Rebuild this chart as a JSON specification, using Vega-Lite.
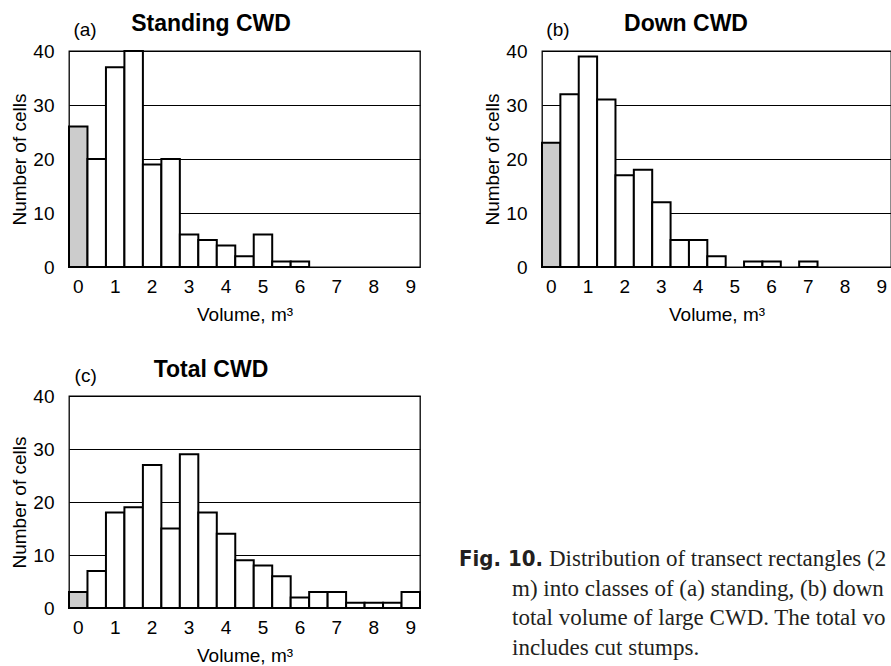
{
  "$schema": "https://vega.github.io/schema/vega-lite/v6.json",
  "background": "white",
  "padding": {"left": 10, "top": 12, "right": 0, "bottom": 0},
  "config": {
    "font": "Liberation Sans",
    "view": {"stroke": "#000", "strokeWidth": 1.3},
    "axis": {
      "domain": false,
      "ticks": false,
      "labelFontSize": 19,
      "labelColor": "#000",
      "labelFont": "Liberation Sans",
      "titleFontSize": 19,
      "titleFontWeight": "normal",
      "titleColor": "#000",
      "titleFont": "Liberation Sans",
      "gridColor": "#000",
      "gridOpacity": 1,
      "gridWidth": 1
    },
    "title": {"fontSize": 23, "fontWeight": "bold", "color": "#000", "font": "Liberation Sans", "offset": -15}
  },
  "datasets": {
    "bars": [
      {"panel": "a", "volume": 0, "cells": 26},
      {"panel": "a", "volume": 0.5, "cells": 20},
      {"panel": "a", "volume": 1, "cells": 37},
      {"panel": "a", "volume": 1.5, "cells": 40},
      {"panel": "a", "volume": 2, "cells": 19},
      {"panel": "a", "volume": 2.5, "cells": 20},
      {"panel": "a", "volume": 3, "cells": 6},
      {"panel": "a", "volume": 3.5, "cells": 5},
      {"panel": "a", "volume": 4, "cells": 4},
      {"panel": "a", "volume": 4.5, "cells": 2},
      {"panel": "a", "volume": 5, "cells": 6},
      {"panel": "a", "volume": 5.5, "cells": 1},
      {"panel": "a", "volume": 6, "cells": 1},
      {"panel": "b", "volume": 0, "cells": 23},
      {"panel": "b", "volume": 0.5, "cells": 32},
      {"panel": "b", "volume": 1, "cells": 39},
      {"panel": "b", "volume": 1.5, "cells": 31},
      {"panel": "b", "volume": 2, "cells": 17},
      {"panel": "b", "volume": 2.5, "cells": 18},
      {"panel": "b", "volume": 3, "cells": 12},
      {"panel": "b", "volume": 3.5, "cells": 5},
      {"panel": "b", "volume": 4, "cells": 5},
      {"panel": "b", "volume": 4.5, "cells": 2},
      {"panel": "b", "volume": 5.5, "cells": 1},
      {"panel": "b", "volume": 6, "cells": 1},
      {"panel": "b", "volume": 7, "cells": 1},
      {"panel": "c", "volume": 0, "cells": 3},
      {"panel": "c", "volume": 0.5, "cells": 7},
      {"panel": "c", "volume": 1, "cells": 18},
      {"panel": "c", "volume": 1.5, "cells": 19},
      {"panel": "c", "volume": 2, "cells": 27},
      {"panel": "c", "volume": 2.5, "cells": 15},
      {"panel": "c", "volume": 3, "cells": 29},
      {"panel": "c", "volume": 3.5, "cells": 18},
      {"panel": "c", "volume": 4, "cells": 14},
      {"panel": "c", "volume": 4.5, "cells": 9},
      {"panel": "c", "volume": 5, "cells": 8},
      {"panel": "c", "volume": 5.5, "cells": 6},
      {"panel": "c", "volume": 6, "cells": 2},
      {"panel": "c", "volume": 6.5, "cells": 3},
      {"panel": "c", "volume": 7, "cells": 3},
      {"panel": "c", "volume": 7.5, "cells": 1},
      {"panel": "c", "volume": 8, "cells": 1},
      {"panel": "c", "volume": 8.5, "cells": 1},
      {"panel": "c", "volume": 9, "cells": 3}
    ],
    "panels": [
      {"panel": "a", "label": "(a)"},
      {"panel": "b", "label": "(b)"},
      {"panel": "c", "label": "(c)"}
    ],
    "caption": [
      {"line": 1, "part": "label", "text": "Fig. 10."},
      {"line": 1, "part": "body", "text": "Distribution of transect rectangles (2 × 50"},
      {"line": 2, "part": "body", "text": "m) into classes of (a) standing, (b) down, and (c)"},
      {"line": 3, "part": "body", "text": "total volume of large CWD. The total volume"},
      {"line": 4, "part": "body", "text": "includes cut stumps."}
    ]
  },
  "columns": 2,
  "spacing": {"row": 129, "column": 122},
  "bounds": "flush",
  "concat": [
    {
      "width": 351,
      "height": 216,
      "title": {"text": "Standing CWD", "dx": -33.5},
      "layer": [
        {
          "data": {"name": "bars"},
          "transform": [{"filter": "datum.panel === 'a'"}],
          "mark": {"type": "bar", "stroke": "#000", "strokeWidth": 2},
          "encoding": {
            "x": {"field": "volume", "type": "ordinal",
              "scale": {"domain": [0, 0.5, 1, 1.5, 2, 2.5, 3, 3.5, 4, 4.5, 5, 5.5, 6, 6.5, 7, 7.5, 8, 8.5, 9], "paddingInner": 0, "paddingOuter": 0},
              "axis": {"values": [0, 1, 2, 3, 4, 5, 6, 7, 8, 9], "labelAngle": 0, "labelPadding": 10, "title": "Volume, m³", "titlePadding": 9, "grid": false}},
            "y": {"field": "cells", "type": "quantitative",
              "scale": {"domain": [0, 40], "nice": false},
              "axis": {"values": [0, 10, 20, 30, 40], "labelPadding": 15, "title": "Number of cells", "titlePadding": 3, "grid": true}},
            "fill": {"condition": {"test": "datum.volume === 0", "value": "#cccccc"}, "value": "#ffffff"}
          }
        },
        {
          "data": {"name": "panels"},
          "transform": [{"filter": "datum.panel === 'a'"}],
          "mark": {"type": "text", "fontSize": 19, "align": "right", "baseline": "alphabetic", "color": "#000"},
          "encoding": {
            "x": {"datum": 0.5, "type": "ordinal",
              "scale": {"domain": [0, 0.5, 1, 1.5, 2, 2.5, 3, 3.5, 4, 4.5, 5, 5.5, 6, 6.5, 7, 7.5, 8, 8.5, 9], "paddingInner": 0, "paddingOuter": 0},
              "axis": {"values": [0, 1, 2, 3, 4, 5, 6, 7, 8, 9], "labelAngle": 0, "labelPadding": 10, "title": "Volume, m³", "titlePadding": 9, "grid": false}},
            "y": {"datum": 42.7, "type": "quantitative",
              "scale": {"domain": [0, 40], "nice": false},
              "axis": {"values": [0, 10, 20, 30, 40], "labelPadding": 15, "title": "Number of cells", "titlePadding": 3, "grid": true}},
            "text": {"field": "label"}
          }
        }
      ]
    },
    {
      "width": 349,
      "height": 216,
      "title": {"text": "Down CWD", "dx": -30.5},
      "layer": [
        {
          "data": {"name": "bars"},
          "transform": [{"filter": "datum.panel === 'b'"}],
          "mark": {"type": "bar", "stroke": "#000", "strokeWidth": 2},
          "encoding": {
            "x": {"field": "volume", "type": "ordinal",
              "scale": {"domain": [0, 0.5, 1, 1.5, 2, 2.5, 3, 3.5, 4, 4.5, 5, 5.5, 6, 6.5, 7, 7.5, 8, 8.5, 9], "paddingInner": 0, "paddingOuter": 0},
              "axis": {"values": [0, 1, 2, 3, 4, 5, 6, 7, 8, 9], "labelAngle": 0, "labelPadding": 10, "title": "Volume, m³", "titlePadding": 9, "grid": false}},
            "y": {"field": "cells", "type": "quantitative",
              "scale": {"domain": [0, 40], "nice": false},
              "axis": {"values": [0, 10, 20, 30, 40], "labelPadding": 15, "title": "Number of cells", "titlePadding": 3, "grid": true}},
            "fill": {"condition": {"test": "datum.volume === 0", "value": "#cccccc"}, "value": "#ffffff"}
          }
        },
        {
          "data": {"name": "panels"},
          "transform": [{"filter": "datum.panel === 'b'"}],
          "mark": {"type": "text", "fontSize": 19, "align": "right", "baseline": "alphabetic", "color": "#000"},
          "encoding": {
            "x": {"datum": 0.5, "type": "ordinal",
              "scale": {"domain": [0, 0.5, 1, 1.5, 2, 2.5, 3, 3.5, 4, 4.5, 5, 5.5, 6, 6.5, 7, 7.5, 8, 8.5, 9], "paddingInner": 0, "paddingOuter": 0},
              "axis": {"values": [0, 1, 2, 3, 4, 5, 6, 7, 8, 9], "labelAngle": 0, "labelPadding": 10, "title": "Volume, m³", "titlePadding": 9, "grid": false}},
            "y": {"datum": 42.7, "type": "quantitative",
              "scale": {"domain": [0, 40], "nice": false},
              "axis": {"values": [0, 10, 20, 30, 40], "labelPadding": 15, "title": "Number of cells", "titlePadding": 3, "grid": true}},
            "text": {"field": "label"}
          }
        }
      ]
    },
    {
      "width": 351,
      "height": 212,
      "title": {"text": "Total CWD", "dx": -33.5},
      "layer": [
        {
          "data": {"name": "bars"},
          "transform": [{"filter": "datum.panel === 'c'"}],
          "mark": {"type": "bar", "stroke": "#000", "strokeWidth": 2},
          "encoding": {
            "x": {"field": "volume", "type": "ordinal",
              "scale": {"domain": [0, 0.5, 1, 1.5, 2, 2.5, 3, 3.5, 4, 4.5, 5, 5.5, 6, 6.5, 7, 7.5, 8, 8.5, 9], "paddingInner": 0, "paddingOuter": 0},
              "axis": {"values": [0, 1, 2, 3, 4, 5, 6, 7, 8, 9], "labelAngle": 0, "labelPadding": 10, "title": "Volume, m³", "titlePadding": 9, "grid": false}},
            "y": {"field": "cells", "type": "quantitative",
              "scale": {"domain": [0, 40], "nice": false},
              "axis": {"values": [0, 10, 20, 30, 40], "labelPadding": 15, "title": "Number of cells", "titlePadding": 3, "grid": true}},
            "fill": {"condition": {"test": "datum.volume === 0", "value": "#cccccc"}, "value": "#ffffff"}
          }
        },
        {
          "data": {"name": "panels"},
          "transform": [{"filter": "datum.panel === 'c'"}],
          "mark": {"type": "text", "fontSize": 19, "align": "right", "baseline": "alphabetic", "color": "#000"},
          "encoding": {
            "x": {"datum": 0.5, "type": "ordinal",
              "scale": {"domain": [0, 0.5, 1, 1.5, 2, 2.5, 3, 3.5, 4, 4.5, 5, 5.5, 6, 6.5, 7, 7.5, 8, 8.5, 9], "paddingInner": 0, "paddingOuter": 0},
              "axis": {"values": [0, 1, 2, 3, 4, 5, 6, 7, 8, 9], "labelAngle": 0, "labelPadding": 10, "title": "Volume, m³", "titlePadding": 9, "grid": false}},
            "y": {"datum": 42.7, "type": "quantitative",
              "scale": {"domain": [0, 40], "nice": false},
              "axis": {"values": [0, 10, 20, 30, 40], "labelPadding": 15, "title": "Number of cells", "titlePadding": 3, "grid": true}},
            "text": {"field": "label"}
          }
        }
      ]
    },
    {
      "width": 349,
      "height": 212,
      "view": {"stroke": null},
      "data": {"name": "caption"},
      "encoding": {
        "y": {"field": "line", "type": "quantitative", "scale": {"domain": [-4.724, 2.414], "reverse": true, "nice": false, "zero": false}, "axis": null},
        "text": {"field": "text"}
      },
      "layer": [
        {
          "transform": [{"filter": "datum.part === 'label'"}],
          "mark": {"type": "text", "align": "right", "baseline": "alphabetic", "font": "Liberation Sans Narrow, DejaVu Sans Condensed, Roboto Condensed, Liberation Sans, sans-serif", "fontWeight": "bold", "fontSize": 22, "color": "#231f20"},
          "encoding": {"x": {"value": 1}}
        },
        {
          "transform": [{"filter": "datum.part === 'body' && datum.line === 1"}],
          "mark": {"type": "text", "align": "left", "baseline": "alphabetic", "font": "Liberation Serif", "fontSize": 23, "color": "#231f20", "limit": 344, "ellipsis": " "},
          "encoding": {"x": {"value": 7}}
        },
        {
          "transform": [{"filter": "datum.part === 'body' && datum.line > 1"}],
          "mark": {"type": "text", "align": "left", "baseline": "alphabetic", "font": "Liberation Serif", "fontSize": 23, "color": "#231f20", "limit": 381, "ellipsis": " "},
          "encoding": {"x": {"value": -30}}
        }
      ]
    }
  ]
}
